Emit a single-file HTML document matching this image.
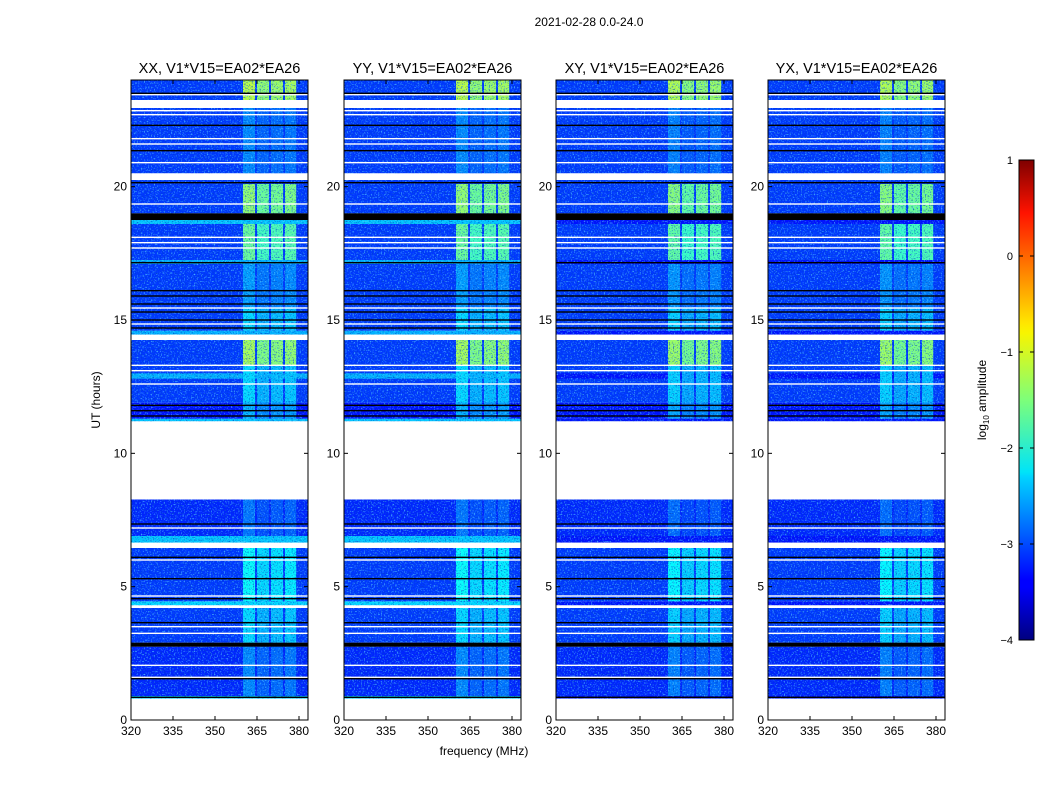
<!DOCTYPE html>
<html><head><meta charset="utf-8"><style>
body{margin:0;background:#fff}
svg text{font-family:"Liberation Sans",sans-serif}
</style></head><body>
<svg id="fig" width="1050" height="800" xmlns="http://www.w3.org/2000/svg">
<defs>
<filter id="noiseL" x="0" y="0" width="100%" height="100%">
<feTurbulence type="fractalNoise" baseFrequency="0.7" numOctaves="1" seed="3"/>
<feColorMatrix values="0 0 0 0 0.1  0 0 0 0 0.65  0 0 0 0 1  4 0 0 0 -2.1"/>
</filter>
<filter id="noiseD" x="0" y="0" width="100%" height="100%">
<feTurbulence type="fractalNoise" baseFrequency="0.75" numOctaves="1" seed="11"/>
<feColorMatrix values="0 0 0 0 0  0 0 0 0 0.05  0 0 0 0 0.55  4 0 0 0 -2.1"/>
</filter>
<linearGradient id="jet" x1="0" y1="1" x2="0" y2="0">
<stop offset="0" stop-color="#00007f"/><stop offset="0.11" stop-color="#0000ff"/>
<stop offset="0.125" stop-color="#0000ff"/><stop offset="0.34" stop-color="#00d4ff"/>
<stop offset="0.35" stop-color="#00e4f8"/><stop offset="0.5" stop-color="#7dff7a"/>
<stop offset="0.64" stop-color="#f8f500"/><stop offset="0.66" stop-color="#ffe600"/>
<stop offset="0.89" stop-color="#ff1300"/><stop offset="1" stop-color="#7f0000"/>
</linearGradient>
</defs>
<text x="589" y="26" font-size="12" text-anchor="middle">2021-02-28 0.0-24.0</text>
<g id="panels"></g>
<g>
<rect x="1019" y="160" width="15" height="480" fill="url(#jet)" stroke="#000" stroke-width="1"/>
<g id="cbticks"></g>
<text transform="translate(986,400) rotate(-90)" font-size="12" text-anchor="middle">log<tspan font-size="8" dy="3">10</tspan><tspan dy="-3"> amplitude</tspan></text>
</g>
<text x="100" y="400" transform="rotate(-90 100 400)" font-size="12" text-anchor="middle">UT (hours)</text>
<text x="484" y="755" font-size="12" text-anchor="middle">frequency (MHz)</text>
</svg>
<script>
const panelNames = ["XX, V1*V15=EA02*EA26","YY, V1*V15=EA02*EA26","XY, V1*V15=EA02*EA26","YX, V1*V15=EA02*EA26"];
const xTicks = [320,335,350,365,380];
const yTicks = [0,5,10,15,20];
const cbTicks = [1,0,-1,-2,-3,-4];
// background time segments [startHour, endHour, log10 level] ; "white"=flagged, "black"=zero
const segStart = [0,0.8,0.9,2.75,2.9,4.2,4.3,4.45,6.45,6.65,6.9,8.27,11.2,11.3,11.9,12.8,14.25,14.45,14.6,17.1,17.25,18.6,18.75,19.0,20.25,20.5,22.95,23.25];
const segEnd   = [0.8,0.9,2.75,2.9,4.2,4.3,4.45,6.45,6.65,6.9,8.27,11.2,11.3,11.9,14.25,13.0,14.45,14.6,17.1,17.25,18.6,18.75,19.0,20.25,20.5,22.95,23.25,24];
const segLevel = ["white",-2.3,-3.2,"black",-3.1,"white",-2.3,-3.1,"white",-2.4,-3.2,"white",-2.4,-3.3,-3.1,-2.5,"white",-2.5,-3.1,-2.5,-3.1,-2.4,"black",-3.1,"white",-3.1,"white",-3.1];
// thin flagged lines
const whiteLines = [23.45,22.85,22.7,21.8,21.6,20.9,19.35,18.1,17.9,17.7,15.45,14.85,13.3,13.1,12.6,7.2,6.0,4.65,3.5,3.25,2.05,1.6];
const blackLines = [23.5,22.3,21.35,20.15,17.15,16.1,15.9,15.6,15.3,15.0,14.7,11.8,11.6,11.4,7.35,6.1,5.3,4.55,3.65,2.85,1.55,0.85];
// RFI frequency bands (MHz) and relative strength
const bandLo = [360,365,370,375];
const bandHi = [364.3,369.3,374.3,379];
const bandAdj = [0,-0.2,-0.15,-0.1];
// band activity in time [start, end, level]
const actStart = [0.9,2.9,4.45,6.9,11.3,11.9,13.3,14.6,15.45,17.25,19.0,20.5,23.25];
const actEnd   = [2.75,4.2,6.45,8.27,11.9,13.3,14.25,15.45,17.1,18.6,20.1,22.95,24];
const actLevel = [-2.7,-2.3,-2.1,-2.8,-2.5,-2.3,-1.3,-2.3,-2.6,-1.6,-1.4,-2.7,-1.2];
const panelLeft = [131,344,556,768];
const crossPol = [false,false,true,true];

const NS="http://www.w3.org/2000/svg";
function mk(tag,attrs,parent){const e=document.createElementNS(NS,tag);for(const k in attrs)e.setAttribute(k,attrs[k]);parent.appendChild(e);return e;}
function jet(v){let t=(v+4)/5;t=Math.max(0,Math.min(1,t));
 const r=Math.min(1,Math.max(0,Math.min(4*t-1.5,-4*t+4.5)));
 const g=Math.min(1,Math.max(0,Math.min(4*t-0.5,-4*t+3.5)));
 const b=Math.min(1,Math.max(0,Math.min(4*t+0.5,-4*t+2.5)));
 return `rgb(${Math.round(r*255)},${Math.round(g*255)},${Math.round(b*255)})`;}
const TOP=80,BOT=720,W=177,F0=320,PXF=2.8;
function yH(h){return BOT-h*(BOT-TOP)/24;}
const root=document.getElementById('panels');
panelLeft.forEach((L,p)=>{
 const xF=f=>L+(f-F0)*PXF;
 const g=mk('g',{},root);
 
 
 const cp=mk('clipPath',{id:'cp'+p},g);
 mk('rect',{x:L,y:TOP,width:W,height:BOT-TOP},cp);
 const hm=mk('g',{'clip-path':'url(#cp'+p+')'},g);
 
 
 segStart.forEach((s,i)=>{let lv=segLevel[i];if(typeof lv!=='number')return;
   if(crossPol[p]&&lv>-2.6)lv=-3.3;
   const r=mk('rect',{x:L,y:yH(segEnd[i]),width:W,height:yH(s)-yH(segEnd[i]),fill:jet(lv)},hm);
   });
 actStart.forEach((s,i)=>{bandLo.forEach((lo,b)=>{
   const lv=actLevel[i]+bandAdj[b]+(crossPol[p]?-0.05:0);
   const r=mk('rect',{x:xF(lo),y:yH(actEnd[i]),width:xF(bandHi[b])-xF(lo),height:yH(s)-yH(actEnd[i]),fill:jet(lv)},hm);
   });});
 mk('rect',{x:L,y:TOP,width:W,height:BOT-TOP,filter:'url(#noiseL)',opacity:0.75},hm);
 mk('rect',{x:L,y:TOP,width:W,height:BOT-TOP,filter:'url(#noiseD)',opacity:0.75},hm);
 segStart.forEach((s,i)=>{const lv=segLevel[i];if(typeof lv==='number')return;
   const r=mk('rect',{x:L,y:yH(segEnd[i]),width:W,height:yH(s)-yH(segEnd[i]),fill:lv==='white'?'#fff':'#000'},hm);
   });
 whiteLines.forEach(h=>{const r=mk('rect',{x:L,y:yH(h)-0.7,width:W,height:1.4,fill:'#fff'},hm);
   });
 blackLines.forEach(h=>{const r=mk('rect',{x:L,y:yH(h)-0.7,width:W,height:1.4,fill:'#000'},hm);
   });
 mk('rect',{x:L,y:TOP,width:W,height:BOT-TOP,fill:'none',stroke:'#000','stroke-width':1},g);
 const t=mk('text',{x:L+W/2,y:73,'font-size':14.5,'text-anchor':'middle'},g);t.textContent=panelNames[p];
 
 xTicks.forEach(f=>{const x=xF(f);
   mk('line',{x1:x,x2:x,y1:BOT,y2:BOT-4,stroke:'#000'},g);mk('line',{x1:x,x2:x,y1:TOP,y2:TOP+4,stroke:'#000'},g);
   const tx=mk('text',{x:x,y:BOT+15,'font-size':12,'text-anchor':'middle'},g);tx.textContent=f;
   });
 yTicks.forEach(h=>{const y=yH(h);
   mk('line',{x1:L,x2:L+4,y1:y,y2:y,stroke:'#000'},g);mk('line',{x1:L+W,x2:L+W-4,y1:y,y2:y,stroke:'#000'},g);
   const ty=mk('text',{x:L-4,y:y+4,'font-size':12,'text-anchor':'end'},g);ty.textContent=h;
   });
});
const cbg=document.getElementById('cbticks');
cbTicks.forEach(v=>{const y=160+(1-v)*96;
 mk('line',{x1:1019,x2:1023,y1:y,y2:y,stroke:'#000'},cbg);mk('line',{x1:1034,x2:1030,y1:y,y2:y,stroke:'#000'},cbg);
 const t=mk('text',{x:1013,y:y+4,'font-size':11,'text-anchor':'end'},cbg);t.textContent=v<0?'\u2212'+(-v):v;
 });
</script>
</body></html>
